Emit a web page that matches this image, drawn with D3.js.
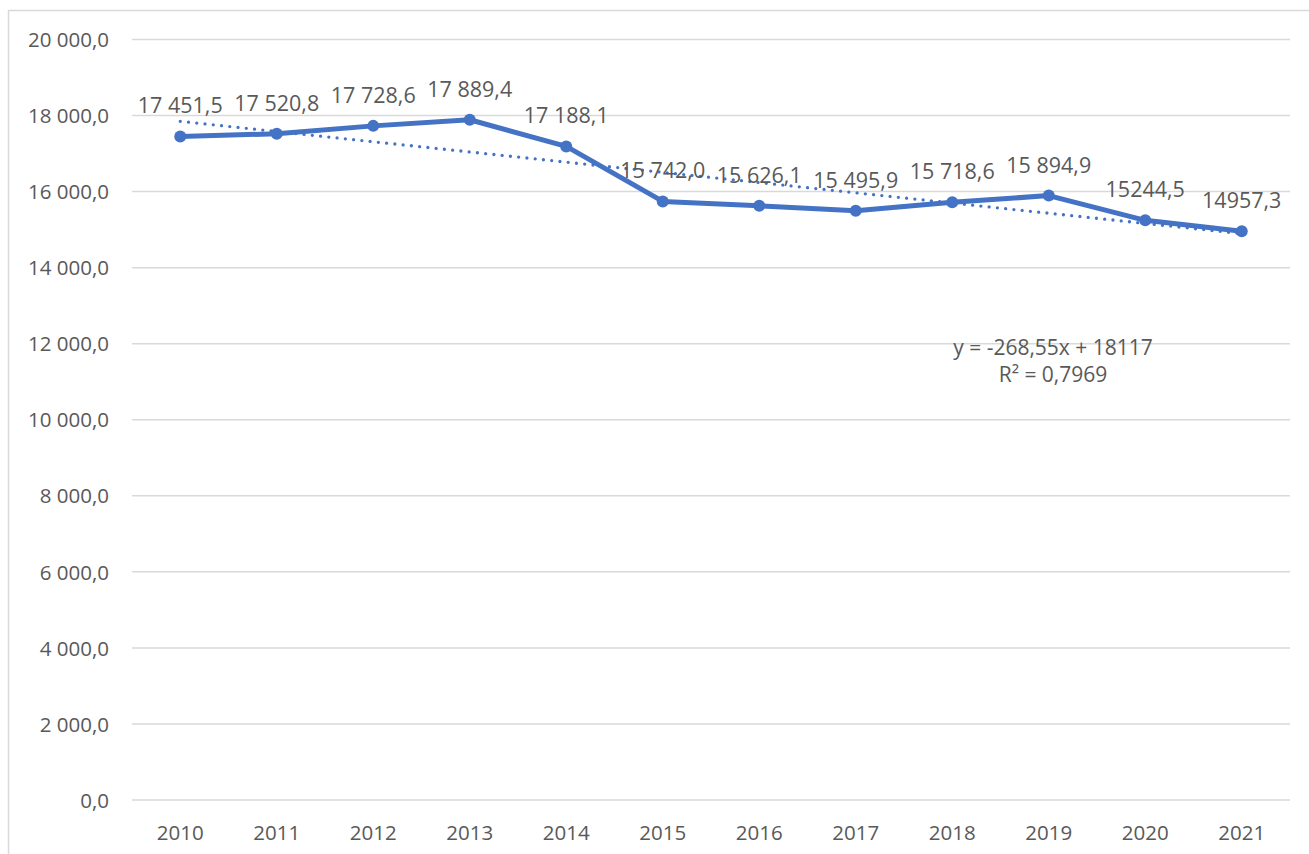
<!DOCTYPE html>
<html>
<head>
<meta charset="utf-8">
<script src="https://cdn.jsdelivr.net/npm/d3@7"></script>
<style>
html,body{margin:0;padding:0;background:#fff;}
svg{display:block;}
text{font-family:"Open Sans",sans-serif;fill:#595959;}
</style>
</head>
<body>
<svg id="chart" width="1309" height="854"></svg>
<script>
const years = ["2010","2011","2012","2013","2014","2015","2016","2017","2018","2019","2020","2021"];
const values = [17451.5,17520.8,17728.6,17889.4,17188.1,15742.0,15626.1,15495.9,15718.6,15894.9,15244.5,14957.3];
const valueLabels = ["17 451,5","17 520,8","17 728,6","17 889,4","17 188,1","15 742,0","15 626,1","15 495,9","15 718,6","15 894,9","15244,5","14957,3"];
const yTicks = [0,2000,4000,6000,8000,10000,12000,14000,16000,18000,20000];
const trendSlope = -268.55, trendIntercept = 18117;
const trendText = ["y = -268,55x + 18117", "R\u00B2 = 0,7969"];

const svg = d3.select("#chart");
const blue = "#4472C4";

// outer frame
svg.append("rect").attr("x",8.5).attr("y",10.5).attr("width",1320).attr("height",900)
  .attr("fill","none").attr("stroke","#d9d9d9").attr("stroke-width",1.5);

const pLeft = 132, pRight = 1290, pTop = 39.5, pBottom = 800;
const x = d3.scaleBand().domain(years).range([pLeft,pRight]);
const y = d3.scaleLinear().domain([0,20000]).range([pBottom,pTop]);
const cx = d => x(d) + x.bandwidth()/2;

const fmt = v => {
  const s = d3.format(",.1f")(v);
  return s.replace(/,/g," ").replace(".",",");
};

// gridlines
svg.append("g").selectAll("line").data(yTicks).join("line")
  .attr("x1",pLeft).attr("x2",pRight)
  .attr("y1",d=>y(d)).attr("y2",d=>y(d))
  .attr("stroke","#d9d9d9").attr("stroke-width",1.5);

// y axis labels
const yAxis = d3.axisLeft(y).tickValues(yTicks).tickFormat(fmt).tickSize(0).tickPadding(0);
const gy = svg.append("g").attr("transform",`translate(109,0)`).call(yAxis);
gy.select(".domain").remove();
gy.selectAll("text").style("font-size","20.5px").style("font-family","'Open Sans',sans-serif").attr("fill","#595959").attr("dy","0.35em");

// x axis labels
const xAxis = d3.axisBottom(x).tickSize(0).tickPadding(0);
const gx = svg.append("g").attr("transform",`translate(0,${pBottom})`).call(xAxis);
gx.select(".domain").remove();
gx.selectAll("text").style("font-size","20.5px").style("font-family","'Open Sans',sans-serif").attr("fill","#595959").attr("dy","0").attr("y",40);

// trendline
const tData = years.map((yr,i)=>({yr, v: trendSlope*(i+1)+trendIntercept}));
svg.append("path").datum(tData)
  .attr("d", d3.line().x(d=>cx(d.yr)).y(d=>y(d.v)))
  .attr("fill","none").attr("stroke",blue).attr("stroke-width",3.3)
  .attr("stroke-dasharray","0 8.3").attr("stroke-linecap","round");

// main line
const data = years.map((yr,i)=>({yr, v: values[i], lab: valueLabels[i]}));
svg.append("path").datum(data)
  .attr("d", d3.line().x(d=>cx(d.yr)).y(d=>y(d.v)))
  .attr("fill","none").attr("stroke",blue).attr("stroke-width",5).attr("stroke-linejoin","round");

svg.append("g").selectAll("circle").data(data).join("circle")
  .attr("cx",d=>cx(d.yr)).attr("cy",d=>y(d.v)).attr("r",6).attr("fill",blue);

// data labels
svg.append("g").selectAll("text").data(data).join("text")
  .attr("x",d=>cx(d.yr)).attr("y",d=>y(d.v)-23)
  .attr("text-anchor","middle").style("font-size","21.5px").text(d=>d.lab);

// trend equation
svg.append("g").selectAll("text").data(trendText).join("text")
  .attr("x",1053).attr("y",(d,i)=>355+i*27)
  .attr("text-anchor","middle").style("font-size","21px").text(d=>d);
</script>
</body>
</html>
